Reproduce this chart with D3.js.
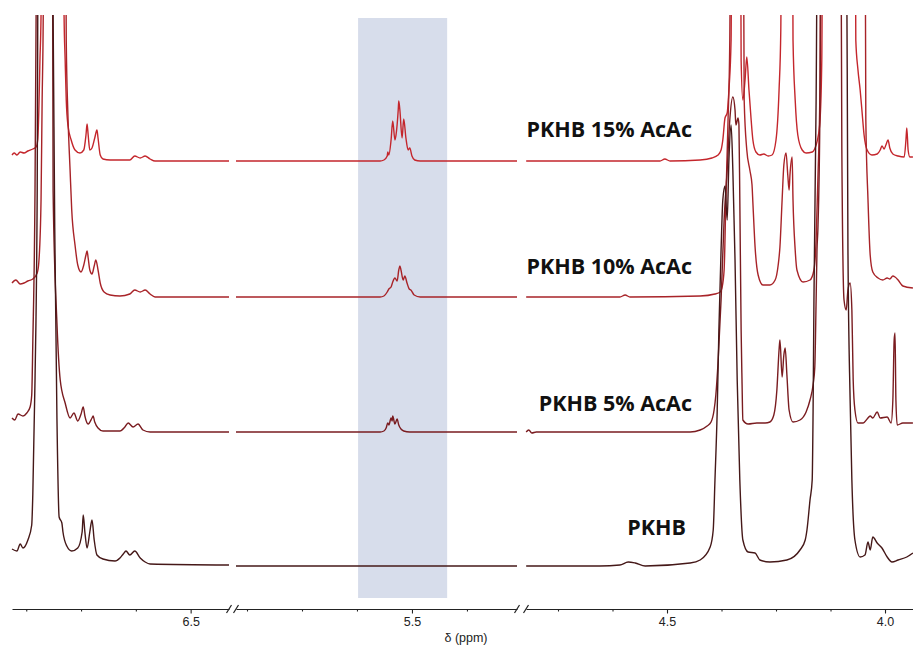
<!DOCTYPE html>
<html>
<head>
<meta charset="utf-8">
<script src="https://cdn.jsdelivr.net/npm/d3@7"></script>
<style>
  body { margin: 0; background: #fff; }
  svg { display: block; }
  .axis text { font-family: "Liberation Sans", Arial, sans-serif; font-size: 12.5px; fill: #222; }
  .axis path, .axis line { stroke: #222; stroke-width: 1.1; }
  .trace { fill: none; stroke-width: 1.4; stroke-linejoin: round; }
  .label { font-family: "Open Sans", sans-serif; font-weight: 700; font-size: 21.5px; fill: #111; }
</style>
</head>
<body>
<div id="chart"></div>
<script>
const width = 913;
const height = 646;

// broken ppm axis: three pieces, high ppm on the left
const segDomains = [[6.826, 6.430], [5.820, 5.309], [4.8234, 3.9358]];
const segTicks = [[6.8, 6.7, 6.6, 6.5], [5.8, 5.7, 5.6, 5.5, 5.4], [4.75, 4.625, 4.5, 4.375, 4.25, 4.125, 4.0]];
const labeledTicks = [6.5, 5.5, 4.5, 4.0];

// highlighted vinyl region (ppm)
const highlight = [5.598, 5.436];

const traceNames = ["PKHB 15% AcAc", "PKHB 10% AcAc", "PKHB 5% AcAc", "PKHB"];
const traceOffsets = [405, 269, 134, 0];

// [ppm, intensity]; 700 = peak runs off the top
const pkhb15 = [
  [6.826,6],[6.822,8],[6.817,6],[6.811,9],[6.804,8],[6.797,10],[6.788,12],[6.782,14],[6.779,21],[6.777,51],
  [6.775,101],[6.773,146],[6.769,700],[6.735,700],[6.731,146],[6.729,101],[6.727,61],[6.724,36],[6.718,21],
  [6.711,11],[6.702,8],[6.695,11],[6.691,26],[6.689,37],[6.687,26],[6.684,11],[6.680,13],[6.675,23],[6.671,31],
  [6.669,23],[6.665,6],[6.660,2],[6.647,1],[6.611,1],[6.602,5],[6.592,3],[6.583,5],[6.574,2],[6.565,0],[6.430,0],
  [5.820,0],[5.558,0],[5.551,1],[5.545,5],[5.544,9],[5.542,6],[5.538,21],[5.535,40],[5.531,21],[5.529,26],
  [5.525,51],[5.524,60],[5.522,51],[5.518,23],[5.515,42],[5.511,23],[5.507,11],[5.504,13],[5.500,5],[5.495,1],
  [5.485,0],[5.309,0],
  [4.823,0],[4.516,0],[4.505,2],[4.493,0],[4.424,1],[4.397,3],[4.383,6],[4.376,11],[4.372,21],[4.367,43],
  [4.362,48],[4.358,71],[4.353,121],[4.349,700],[4.335,700],[4.330,101],[4.326,61],[4.321,81],[4.317,104],
  [4.312,71],[4.307,41],[4.303,21],[4.296,9],[4.287,6],[4.278,7],[4.268,5],[4.259,6],[4.250,21],[4.243,71],
  [4.239,131],[4.234,700],[4.216,700],[4.211,121],[4.206,61],[4.200,26],[4.190,11],[4.181,8],[4.167,9],
  [4.158,16],[4.154,23],[4.149,41],[4.145,101],[4.140,700],[4.073,700],[4.067,121],[4.062,91],[4.057,71],
  [4.053,51],[4.048,26],[4.041,11],[4.030,6],[4.018,7],[4.011,11],[4.007,15],[4.002,12],[3.998,16],[3.993,21],
  [3.989,13],[3.982,7],[3.970,5],[3.956,4],[3.952,21],[3.950,33],[3.947,11],[3.943,4],[3.936,4]
];

const pkhb10 = [
  [6.826,14],[6.819,17],[6.811,13],[6.804,14],[6.797,16],[6.788,18],[6.780,24],[6.777,35],[6.773,97],[6.771,197],
  [6.769,282],[6.768,700],[6.731,700],[6.727,257],[6.724,183],[6.720,127],[6.717,87],[6.711,52],[6.706,32],
  [6.700,25],[6.695,32],[6.691,42],[6.689,46],[6.687,39],[6.684,27],[6.680,23],[6.676,31],[6.673,37],[6.669,27],
  [6.665,14],[6.658,5],[6.647,2],[6.629,1],[6.611,3],[6.602,7],[6.592,5],[6.583,7],[6.574,3],[6.565,0],[6.430,0],
  [5.820,0],[5.558,0],[5.551,1],[5.545,5],[5.542,8],[5.538,10],[5.535,15],[5.531,19],[5.527,16],[5.524,27],
  [5.522,31],[5.520,27],[5.516,17],[5.513,21],[5.509,14],[5.505,8],[5.502,7],[5.496,2],[5.485,0],[5.309,0],
  [4.823,0],[4.608,0],[4.596,2],[4.585,0],[4.424,1],[4.390,3],[4.378,5],[4.374,9],[4.369,27],[4.365,97],
  [4.360,177],[4.356,257],[4.351,700],[4.328,700],[4.323,197],[4.317,147],[4.310,127],[4.305,112],[4.303,94],
  [4.298,50],[4.291,22],[4.280,12],[4.264,12],[4.252,17],[4.245,32],[4.241,50],[4.236,97],[4.232,132],
  [4.227,144],[4.223,122],[4.220,107],[4.218,122],[4.213,140],[4.211,97],[4.206,47],[4.202,27],[4.188,15],
  [4.172,17],[4.163,27],[4.158,57],[4.154,117],[4.149,217],[4.145,700],[4.048,700],[4.044,177],[4.039,97],
  [4.034,42],[4.028,25],[4.016,19],[4.005,17],[3.995,19],[3.989,18],[3.982,21],[3.977,20],[3.970,17],
  [3.959,11],[3.936,9]
];

const pkhb5 = [
  [6.826,14],[6.821,12],[6.815,18],[6.806,16],[6.799,19],[6.793,25],[6.790,37],[6.788,90],[6.784,242],
  [6.782,417],[6.780,700],[6.753,700],[6.751,242],[6.744,109],[6.738,52],[6.729,29],[6.720,14],[6.713,19],
  [6.706,11],[6.700,18],[6.696,25],[6.693,16],[6.687,8],[6.680,14],[6.678,16],[6.675,10],[6.669,4],[6.660,1],
  [6.629,1],[6.620,5],[6.614,9],[6.605,5],[6.596,8],[6.587,2],[6.574,0],[6.430,0],
  [5.820,0],[5.558,0],[5.551,1],[5.547,4],[5.544,9],[5.542,7],[5.538,14],[5.536,11],[5.535,16],[5.531,8],
  [5.527,13],[5.524,7],[5.520,3],[5.515,1],[5.504,0],[5.309,0],
  [4.823,0],[4.817,2],[4.810,-1],[4.800,0],[4.447,0],[4.424,2],[4.408,6],[4.399,10],[4.392,22],[4.388,37],
  [4.383,69],[4.376,132],[4.369,212],[4.362,262],[4.356,312],[4.349,335],[4.344,322],[4.342,307],[4.337,314],
  [4.335,307],[4.333,232],[4.330,102],[4.328,52],[4.326,12],[4.314,8],[4.294,9],[4.275,9],[4.264,10],
  [4.255,17],[4.248,42],[4.243,82],[4.241,92],[4.236,55],[4.232,77],[4.229,84],[4.225,57],[4.220,22],
  [4.211,10],[4.195,12],[4.181,20],[4.172,32],[4.165,47],[4.161,65],[4.158,132],[4.156,182],[4.154,202],
  [4.149,332],[4.145,700],[4.103,700],[4.099,282],[4.094,132],[4.089,122],[4.085,142],[4.080,149],[4.076,122],
  [4.073,52],[4.069,22],[4.062,9],[4.050,9],[4.041,13],[4.034,16],[4.028,14],[4.018,20],[4.011,14],
  [3.995,15],[3.986,9],[3.982,32],[3.979,92],[3.977,99],[3.975,32],[3.972,7],[3.959,9],[3.936,9]
];

const pkhb0 = [
  [6.826,17],[6.817,15],[6.811,22],[6.806,18],[6.797,26],[6.790,41],[6.788,72],[6.784,186],[6.780,376],
  [6.779,551],[6.777,700],[6.755,700],[6.751,551],[6.748,338],[6.744,148],[6.740,49],[6.735,43],[6.733,34],
  [6.726,20],[6.717,15],[6.706,18],[6.698,34],[6.696,51],[6.693,34],[6.689,18],[6.684,34],[6.680,46],
  [6.676,26],[6.671,11],[6.660,7],[6.638,5],[6.629,8],[6.623,12],[6.618,15],[6.611,11],[6.602,15],[6.592,8],
  [6.583,4],[6.574,2],[6.430,1],
  [5.820,0],[5.560,0],[5.309,0],
  [4.823,0],[4.654,0],[4.608,1],[4.589,4],[4.573,3],[4.550,0],[4.447,3],[4.424,6],[4.401,19],[4.394,36],
  [4.390,86],[4.385,153],[4.381,236],[4.376,316],[4.372,366],[4.367,380],[4.362,346],[4.358,406],[4.353,441],
  [4.349,396],[4.344,306],[4.339,186],[4.333,86],[4.326,26],[4.314,14],[4.298,13],[4.287,6],[4.264,4],
  [4.225,6],[4.195,16],[4.183,26],[4.179,36],[4.172,66],[4.167,86],[4.165,153],[4.163,266],[4.158,466],
  [4.154,700],[4.089,700],[4.085,316],[4.080,166],[4.076,86],[4.069,26],[4.057,9],[4.046,11],[4.039,24],
  [4.034,16],[4.028,29],[4.018,23],[4.007,18],[3.995,9],[3.984,4],[3.970,6],[3.950,9],[3.936,13]
];

const traces = [pkhb15, pkhb10, pkhb5, pkhb0];
const traceColors = ["#c4262c", "#a82328", "#7a1c20", "#451818"];

// layout
const segRanges = [[12, 229], [236, 517], [526, 913]];
const axisY = 609;
const plotTop = 15;
const labelX = [692, 692, 692, 686];
const labelDy = [-24, -23, -21, -31];

const svg = d3.select("#chart")
    .append("svg")
    .attr("width", width)
    .attr("height", height);

const xScales = segDomains.map((dom, i) => d3.scaleLinear().domain(dom).range(segRanges[i]));

const y = d3.scaleLinear()
    .domain([0, 550])
    .range([566, 16]);

svg.append("defs").append("clipPath")
    .attr("id", "plotClip")
    .append("rect")
    .attr("x", 0)
    .attr("y", plotTop)
    .attr("width", width)
    .attr("height", axisY - plotTop);

// shaded region
svg.append("rect")
    .attr("x", xScales[1](highlight[0]))
    .attr("y", 18)
    .attr("width", xScales[1](highlight[1]) - xScales[1](highlight[0]))
    .attr("height", 598 - 18)
    .attr("fill", "#d7ddeb");

// spectra
const gTraces = svg.append("g").attr("clip-path", "url(#plotClip)");

traces.forEach(function(data, t) {
    xScales.forEach(function(xs, s) {
        const dom = segDomains[s];
        const pts = data.filter(d => d[0] <= dom[0] + 1e-6 && d[0] >= dom[1] - 1e-6);
        const line = d3.line()
            .x(d => xs(d[0]))
            .y(d => y(traceOffsets[t] + d[1]))
            .curve(d3.curveMonotoneX);
        gTraces.append("path")
            .datum(pts)
            .attr("class", "trace")
            .attr("stroke", traceColors[t])
            .attr("d", line);
    });
});

// labels
svg.selectAll("text.label")
    .data(traceNames)
    .join("text")
    .attr("class", "label")
    .attr("text-anchor", "end")
    .attr("x", (d, i) => labelX[i])
    .attr("y", (d, i) => y(traceOffsets[i]) + labelDy[i])
    .text(d => d);

// axis pieces
const fmt = d3.format(".1f");
xScales.forEach(function(xs, s) {
    const minor = segTicks[s].filter(v => !labeledTicks.includes(v));
    const major = segTicks[s].filter(v => labeledTicks.includes(v));

    svg.append("g")
        .attr("class", "axis")
        .attr("transform", "translate(0," + axisY + ")")
        .call(d3.axisBottom(xs).tickValues(minor).tickSize(2.5).tickSizeOuter(0).tickFormat(""));

    svg.append("g")
        .attr("class", "axis")
        .attr("transform", "translate(0," + axisY + ")")
        .call(d3.axisBottom(xs).tickValues(major).tickSize(4.5).tickSizeOuter(0).tickPadding(4).tickFormat(fmt))
        .call(g => g.select(".domain").remove());
});

// break marks
[segRanges[0][1], segRanges[1][0], segRanges[1][1], segRanges[2][0]].forEach(function(bx) {
    svg.append("line")
        .attr("x1", bx - 2.5).attr("y1", axisY + 4)
        .attr("x2", bx + 2.5).attr("y2", axisY - 4)
        .attr("stroke", "#222")
        .attr("stroke-width", 1.2);
});

svg.append("text")
    .attr("x", 466)
    .attr("y", 642)
    .attr("text-anchor", "middle")
    .style("font-family", "Liberation Sans, Arial, sans-serif")
    .style("font-size", "12.5px")
    .style("fill", "#222")
    .text("δ (ppm)");
</script>
</body>
</html>
